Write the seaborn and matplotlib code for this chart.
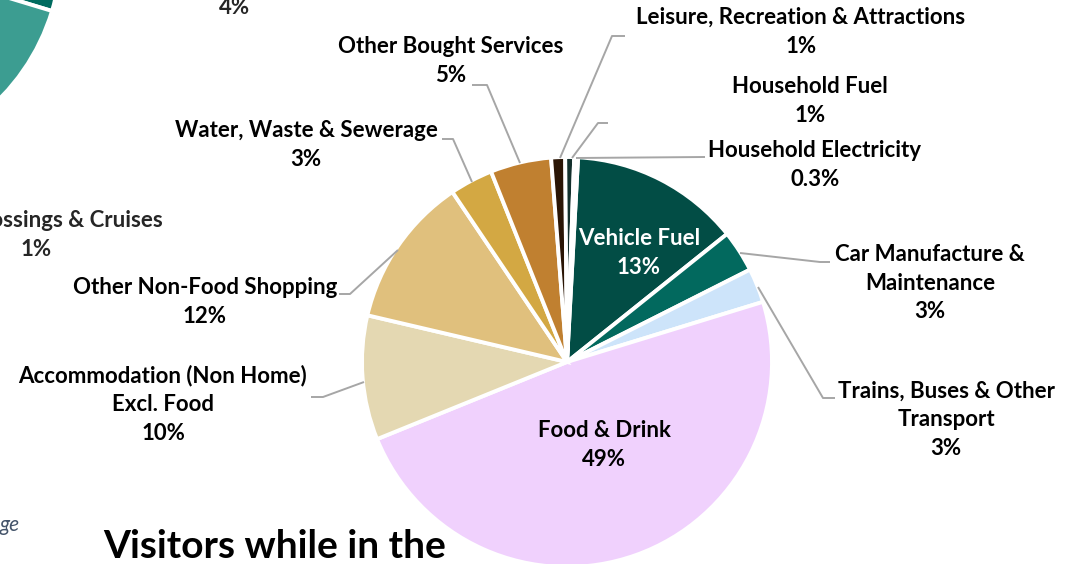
import matplotlib
matplotlib.use("Agg")
import matplotlib.pyplot as plt
import seaborn as sns

# main pie: share of visitor spend by category (clockwise from the top)
categories = [
    "Vehicle Fuel",
    "Car Manufacture &\nMaintenance",
    "Trains, Buses & Other\nTransport",
    "Food & Drink",
    "Accommodation (Non Home)\nExcl. Food",
    "Other Non-Food Shopping",
    "Water, Waste & Sewerage",
    "Other Bought Services",
    "Leisure, Recreation & Attractions",
    "Household Fuel",
    "Household Electricity",
]
shares = [13.4, 3.3, 2.7, 48.6, 9.8, 11.9, 3.4, 4.8, 1.1, 0.7, 0.3]
colors = [
    "#024D45", "#02695E", "#CDE4FA", "#F0D1FD", "#E4D8B2", "#E0C07D",
    "#D3A843", "#C08030", "#2A1505", "#12302C", "#E6E6E6",
]

# neighbouring pie, only its edge is in view
left_shares = [4, 20, 76]
left_colors = ["#006B5F", "#3C9D91", "#3C9D91"]
left_labels = ["4%", "Ferry Crossings & Cruises\n1%"]

title = "Visitors while in the"
note = "ge"


def pct(v):
    return f"{v:.0f}%" if v >= 0.5 else f"{v:.1f}%"


# label block centres in pixels, plus leader line vertices
label_pos = [
    (639, 253), (930, 283), (946, 420), (604, 445), (163, 404), (205, 302),
    (306, 145), (451, 61), (801, 32), (810, 101), (815, 165),
]
leaders = {
    1: [(740, 253), (820, 262), (830, 262)],
    2: [(758, 287), (823, 398), (835, 398)],
    4: [(364, 382), (323, 397), (311, 397)],
    5: [(398, 250), (350, 294), (339, 294)],
    6: [(472, 182), (453, 139), (442, 139)],
    7: [(520, 163), (487, 85), (472, 85)],
    8: [(560, 158), (612, 36), (625, 36)],
    9: [(572, 158), (598, 123), (608, 123)],
    10: [(576, 158), (705, 157)],
}

FS = 16
LS = 1.47


def main() -> None:
    sns.set_theme(style="white")
    plt.rcParams["font.family"] = ["Lato", "DejaVu Sans"]

    fig = plt.figure(figsize=(10.71, 5.64), dpi=100)
    ax = fig.add_axes([0, 0, 1, 1])

    # y axis points down, so counterclock=True runs clockwise on screen
    ax.pie(shares, colors=colors, center=(567, 362), radius=205,
           startangle=-86.9, counterclock=True,
           wedgeprops=dict(edgecolor="white", linewidth=2.8))
    ax.pie(left_shares, colors=left_colors, center=(-150, -50), radius=211,
           startangle=2.4, counterclock=True,
           wedgeprops=dict(edgecolor="white", linewidth=2.8))

    ax.set_xlim(0, 1071)
    ax.set_ylim(564, 0)
    ax.set_aspect("equal")
    ax.axis("off")

    for i, (name, v) in enumerate(zip(categories, shares)):
        x, y = label_pos[i]
        ax.text(x, y, f"{name}\n{pct(v)}", ha="center", va="center",
                fontsize=FS, fontweight="bold", linespacing=LS,
                color="white" if i == 0 else "black")
        if i in leaders:
            xs, ys = zip(*leaders[i])
            ax.plot(xs, ys, color="#A6A6A6", lw=1.4, solid_capstyle="butt")

    ax.text(235, 8, left_labels[0], ha="center", va="center",
            fontsize=FS, fontweight="bold")
    ax.text(36, 235, left_labels[1], ha="center", va="center",
            fontsize=FS, fontweight="bold", linespacing=LS)

    ax.text(103, 558, title, ha="left", va="baseline",
            fontsize=28, fontweight="bold", color="black")
    ax.text(20, 531, note, ha="right", va="baseline", fontsize=15,
            style="italic", color="#44546A")

    fig.savefig("out.png", dpi=100)
    plt.close(fig)


if __name__ == "__main__":
    main()
